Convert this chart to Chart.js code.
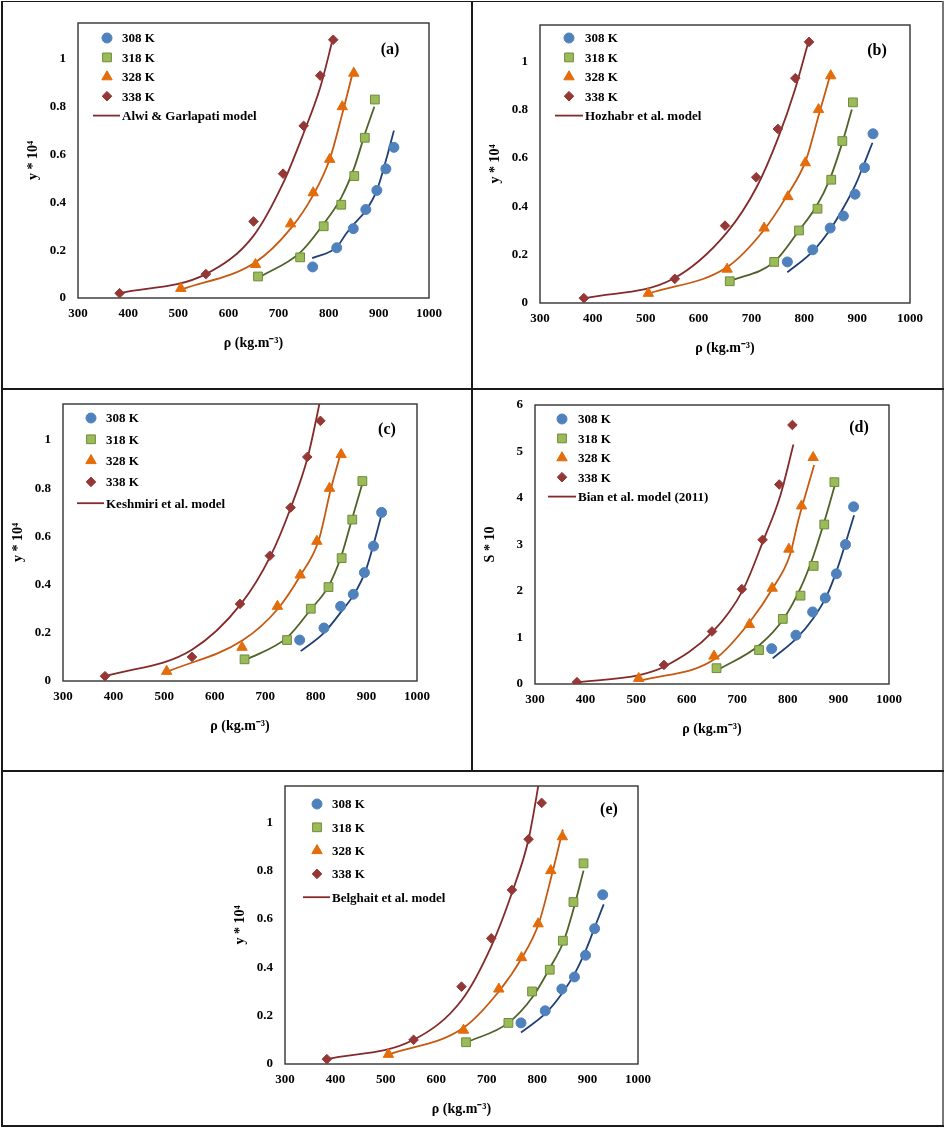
<!DOCTYPE html>
<html>
<head>
<meta charset="utf-8">
<script src="https://cdn.jsdelivr.net/npm/chart.js@4.4.0/dist/chart.umd.min.js"></script>
<style>
  body { margin: 0; background: #fff; }
  #page { position: relative; width: 945px; height: 1129px; overflow: hidden; }
  #page canvas { position: absolute; }
  .rule { position: absolute; background: #1a1a1a; }
</style>
</head>
<body>
<div id="page">
  <div class="rule" style="left:1px;top:1px;width:943px;height:1px"></div>
  <div class="rule" style="left:1px;top:1px;width:2px;height:1126px"></div>
  <div class="rule" style="left:942px;top:1px;width:2px;height:1126px;background:#777"></div>
  <div class="rule" style="left:1px;top:1125px;width:943px;height:2px"></div>
  <div class="rule" style="left:471px;top:1px;width:2px;height:771px"></div>
  <div class="rule" style="left:1px;top:388px;width:943px;height:2px"></div>
  <div class="rule" style="left:1px;top:770px;width:943px;height:2px"></div>
</div>
<script>
// density of the experimental points (kg/m3)
const rho308 = [768, 816, 849, 874, 896, 914, 930];
const rho318 = [659, 743, 790, 825, 851, 872, 892];
const rho328 = [505, 654, 724, 769, 802, 827, 850];
const rho338 = [383, 555, 650, 709, 750, 783, 809];

// mole fraction * 10^4
const y308 = [0.17, 0.22, 0.31, 0.36, 0.45, 0.56, 0.70];
const y308a = [0.13, 0.21, 0.29, 0.37, 0.45, 0.54, 0.63]; // as plotted in panel (a)
const y318 = [0.09, 0.17, 0.30, 0.39, 0.51, 0.67, 0.83];
const y328 = [0.04, 0.14, 0.31, 0.44, 0.58, 0.80, 0.94];
const y338 = [0.02, 0.10, 0.32, 0.52, 0.72, 0.93, 1.08];

// solubility S * 10 (panel d)
const s308 = [0.76, 1.05, 1.55, 1.85, 2.37, 3.00, 3.81];
const s318 = [0.34, 0.73, 1.40, 1.90, 2.54, 3.43, 4.34];
const s328 = [0.12, 0.60, 1.28, 2.06, 2.90, 3.83, 4.87];
const s338 = [0.04, 0.41, 1.13, 2.04, 3.10, 4.29, 5.57];

// model curves [rho, value]
const fitA308 = [[767,0.167],[816,0.213],[835,0.27],[850,0.308],[874,0.366],[896,0.45],[916,0.59],[930,0.70]];
const fitA318 = [[660,0.085],[743,0.19],[790,0.31],[825,0.42],[851,0.545],[872,0.685],[891,0.80]];
const fitA328 = [[505,0.035],[654,0.15],[724,0.29],[769,0.43],[802,0.58],[827,0.77],[850,0.96]];
const fitA338 = [[383,0.02],[555,0.10],[650,0.26],[709,0.48],[750,0.69],[783,0.88],[809,1.09]];

const fitB308 = [[768,0.127],[816,0.214],[849,0.304],[874,0.394],[897,0.49],[914,0.58],[929,0.663]];
const fitB318 = [[659,0.09],[743,0.17],[790,0.30],[823,0.40],[848,0.51],[870,0.65],[890,0.80]];
const fitB328 = [[507,0.04],[655,0.15],[723,0.30],[766,0.44],[803,0.59],[829,0.79],[850,0.95]];
const fitB338 = [[386,0.02],[552,0.10],[653,0.29],[710,0.48],[750,0.68],[782,0.88],[809,1.09]];

const fitC308 = [[770,0.124],[816,0.20],[851,0.29],[877,0.365],[898,0.455],[914,0.566],[930,0.692]];
const fitC318 = [[661,0.087],[743,0.18],[791,0.30],[824,0.39],[850,0.517],[872,0.676],[892,0.82]];
const fitC328 = [[508,0.04],[656,0.17],[725,0.30],[770,0.44],[805,0.58],[830,0.80],[851,0.96]];
const fitC338 = [[384,0.02],[555,0.13],[652,0.32],[710,0.517],[750,0.717],[784,0.93],[812,1.20]];

const fitD308 = [[770,0.55],[817,0.98],[850,1.41],[876,1.88],[897,2.45],[915,3.06],[931,3.63]];
const fitD318 = [[661,0.30],[744,0.84],[792,1.41],[825,2.06],[851,2.77],[874,3.56],[892,4.24]];
const fitD328 = [[507,0.065],[657,0.55],[725,1.34],[770,2.06],[804,2.77],[820,3.49],[833,4.0],[852,4.71]];
const fitD338 = [[384,0.04],[506,0.19],[557,0.38],[652,1.13],[711,2.02],[752,3.10],[785,4.05],[811,5.15]];

const fitE308 = [[768,0.13],[817,0.21],[850,0.294],[875,0.376],[897,0.473],[915,0.57],[932,0.66]];
const fitE318 = [[661,0.09],[743,0.17],[792,0.28],[826,0.40],[853,0.51],[872,0.64],[892,0.80]];
const fitE328 = [[506,0.04],[654,0.15],[724,0.30],[770,0.44],[803,0.58],[830,0.79],[851,0.97]];
const fitE338 = [[383,0.02],[555,0.10],[651,0.266],[709,0.487],[752,0.72],[783,0.93],[808,1.22]];

const tempLabels = ['308 K', '318 K', '328 K', '338 K'];
const xTickVals = [300, 400, 500, 600, 700, 800, 900, 1000];
const yTickVals = [0, 0.2, 0.4, 0.6, 0.8, 1];
const sTickVals = [0, 1, 2, 3, 4, 5, 6];

const FONT = "'Liberation Serif', 'Times New Roman', serif";

const marks = [
    { pointStyle: 'circle',   radius: 5,   bg: '#4F81BD', border: '#4F81BD', line: '#1F3F77' },
    { pointStyle: 'rect',     radius: 6.2, bg: '#9BBB59', border: '#6E8B3D', line: '#4F6228' },
    { pointStyle: 'triangle', radius: 6,   bg: '#E46C0A', border: '#E46C0A', line: '#C55A11' },
    { pointStyle: 'rectRot',  radius: 4.8, bg: '#953735', border: '#953735', line: '#832A2A' }
];

// plot box in page pixels: left, top, right, bottom; legend: dx, dy, row step, text dx
const panels = [
    { tag: '(a)', plot: [78, 23, 429, 298], yTitle: 'y * 10⁴', yMax: 1.15, yTicks: yTickVals,
      model: 'Alwi & Garlapati model', leg: [29, 15, 19.4, 44], tagAt: [39, 27],
      exp: [[rho308, y308a], [rho318, y318], [rho328, y328], [rho338, y338]],
      fits: [fitA308, fitA318, fitA328, fitA338] },
    { tag: '(b)', plot: [540, 25, 910, 303], yTitle: 'y * 10⁴', yMax: 1.15, yTicks: yTickVals,
      model: 'Hozhabr et al. model', leg: [29, 13, 19.4, 45], tagAt: [33, 26],
      exp: [[rho308, y308], [rho318, y318], [rho328, y328], [rho338, y338]],
      fits: [fitB308, fitB318, fitB328, fitB338] },
    { tag: '(c)', plot: [63, 404, 417, 681], yTitle: 'y * 10⁴', yMax: 1.15, yTicks: yTickVals,
      model: 'Keshmiri et al. model', leg: [28, 14, 21.3, 43], tagAt: [30, 26],
      exp: [[rho308, y308], [rho318, y318], [rho328, y328], [rho338, y338]],
      fits: [fitC308, fitC318, fitC328, fitC338] },
    { tag: '(d)', plot: [535, 405, 889, 684], yTitle: 'S * 10', yMax: 6, yTicks: sTickVals,
      model: 'Bian et al. model (2011)', leg: [27, 14, 19.4, 43], tagAt: [30, 23],
      exp: [[rho308, s308], [rho318, s318], [rho328, s328], [rho338, s338]],
      fits: [fitD308, fitD318, fitD328, fitD338] },
    { tag: '(e)', plot: [285, 786, 638, 1064], yTitle: 'y * 10⁴', yMax: 1.15, yTicks: yTickVals,
      model: 'Belghait et al. model', leg: [32, 18, 23.3, 47], tagAt: [29, 24],
      exp: [[rho308, y308], [rho318, y318], [rho328, y328], [rho338, y338]],
      fits: [fitE308, fitE318, fitE328, fitE338] }
];

// canvas margins round the plot box (big enough for the scales' own label padding)
const padL = 70, padT = 26, padR = 32, padB = 62;

// frame, inner legend and panel letter
const extras = {
    id: 'extras',
    beforeDatasetsDraw(chart) {
        const { ctx, chartArea: a } = chart;
        ctx.save();
        ctx.strokeStyle = '#333';
        ctx.lineWidth = 1.4;
        ctx.strokeRect(a.left, a.top, a.right - a.left, a.bottom - a.top);
        ctx.restore();
    },
    afterDraw(chart, args, opts) {
        const { ctx, chartArea: a } = chart;
        const p = opts.panel;
        const [dx, dy, step, tx] = p.leg;
        ctx.save();
        ctx.font = 'bold 13px ' + FONT;
        ctx.textBaseline = 'middle';
        marks.forEach((m, i) => {
            const y = a.top + dy + i * step;
            ctx.fillStyle = m.bg;
            ctx.strokeStyle = m.border;
            ctx.lineWidth = 1;
            Chart.helpers.drawPoint(ctx, {
                pointStyle: m.pointStyle, radius: m.radius, rotation: 0, borderWidth: 1
            }, a.left + dx, y);
            ctx.fillStyle = '#000';
            ctx.fillText(tempLabels[i], a.left + tx, y + 1);
        });
        const yl = a.top + dy + 4 * step;
        ctx.strokeStyle = marks[3].line;
        ctx.lineWidth = 1.8;
        ctx.beginPath();
        ctx.moveTo(a.left + dx - 14, yl);
        ctx.lineTo(a.left + tx - 2, yl);
        ctx.stroke();
        ctx.fillStyle = '#000';
        ctx.fillText(p.model, a.left + tx, yl + 1);
        ctx.font = 'bold 16px ' + FONT;
        ctx.textAlign = 'center';
        ctx.fillText(p.tag, a.right - p.tagAt[0], a.top + p.tagAt[1]);
        ctx.restore();
    }
};

function toPts(xs, ys) {
    return xs.map((x, i) => ({ x: x, y: ys[i] }));
}

panels.forEach(p => {
    const [L, T, R, B] = p.plot;
    const cv = document.createElement('canvas');
    cv.width = R - L + padL + padR;
    cv.height = B - T + padT + padB;
    cv.style.left = (L - padL) + 'px';
    cv.style.top = (T - padT) + 'px';
    document.getElementById('page').appendChild(cv);

    const datasets = [];
    p.exp.forEach((e, i) => {
        const m = marks[i];
        datasets.push({
            label: tempLabels[i],
            data: toPts(e[0], e[1]),
            showLine: false,
            pointStyle: m.pointStyle,
            pointRadius: m.radius,
            pointBackgroundColor: m.bg,
            pointBorderColor: m.border,
            pointBorderWidth: 1
        });
    });
    p.fits.forEach((f, i) => {
        datasets.push({
            label: p.model,
            data: f.map(v => ({ x: v[0], y: v[1] })),
            showLine: true,
            pointRadius: 0,
            borderColor: marks[i].line,
            borderWidth: 1.8,
            cubicInterpolationMode: 'monotone'
        });
    });

    new Chart(cv.getContext('2d'), {
        type: 'scatter',
        data: { datasets: datasets },
        options: {
            responsive: false,
            animation: false,
            events: [],
            layout: { padding: { left: 0, top: padT, right: padR, bottom: 0 } },
            scales: {
                x: {
                    type: 'linear', min: 300, max: 1000,
                    afterFit: s => { s.height = padB; },
                    afterBuildTicks: s => { s.ticks = xTickVals.map(v => ({ value: v })); },
                    grid: { display: false, drawTicks: false },
                    border: { display: false },
                    ticks: { color: '#000', padding: 8, maxRotation: 0,
                             font: { family: FONT, size: 13, weight: 'bold' },
                             callback: v => String(v) },
                    title: {
                        display: true, text: 'ρ (kg.m⁻³)', color: '#000',
                        padding: { top: 0, bottom: 8 },
                        font: { family: FONT, size: 14, weight: 'bold' }
                    }
                },
                y: {
                    type: 'linear', min: 0, max: p.yMax,
                    afterFit: s => { s.width = padL; },
                    afterBuildTicks: s => { s.ticks = p.yTicks.map(v => ({ value: v })); },
                    grid: { display: false, drawTicks: false },
                    border: { display: false },
                    ticks: { color: '#000', padding: 12, font: { family: FONT, size: 13, weight: 'bold' },
                             callback: v => String(v) },
                    title: {
                        display: true, text: p.yTitle, color: '#000',
                        padding: { top: 17, bottom: 0 },
                        font: { family: FONT, size: 14, weight: 'bold' }
                    }
                }
            },
            plugins: {
                legend: { display: false },
                tooltip: { enabled: false },
                extras: { panel: p }
            }
        },
        plugins: [extras]
    });
});
</script>
</body>
</html>
